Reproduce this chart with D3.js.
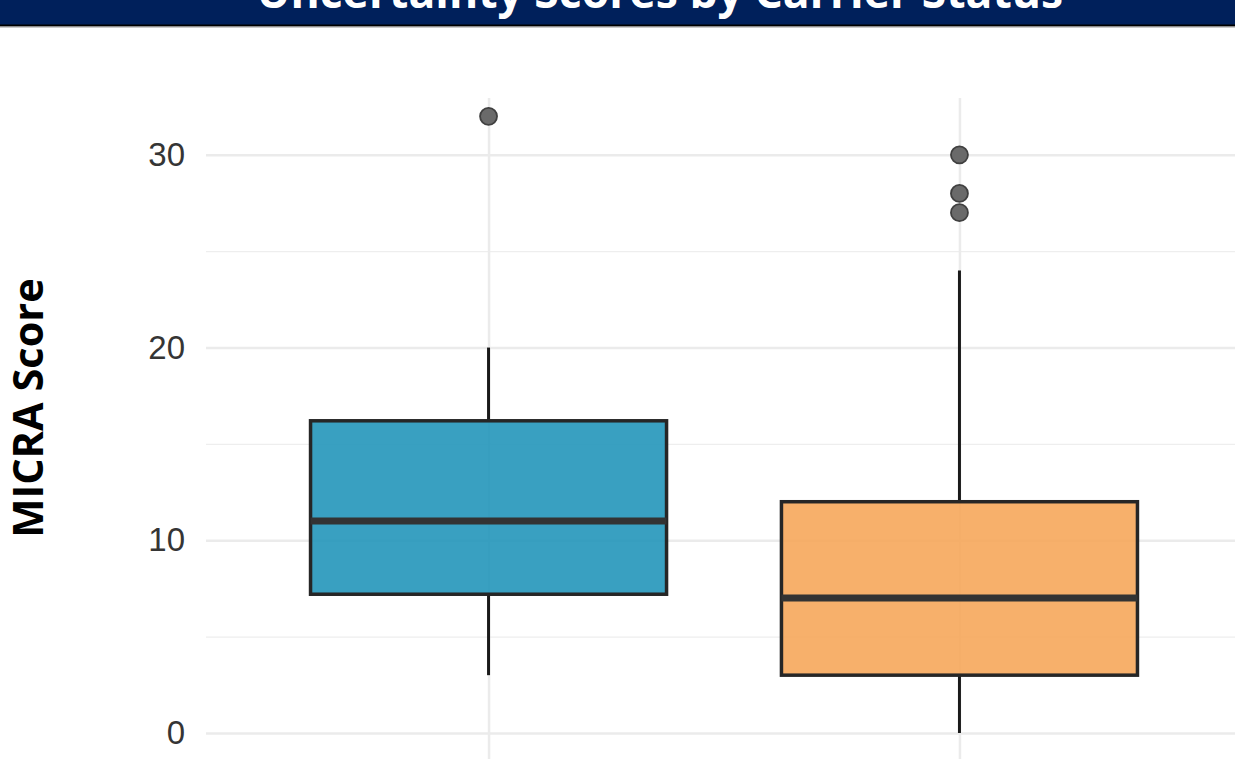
<!DOCTYPE html>
<html>
<head>
<meta charset="utf-8">
<script src="https://cdn.jsdelivr.net/npm/d3@7"></script>
<style>
  body { margin: 0; background: #ffffff; }
  svg { display: block; }
</style>
</head>
<body>
<svg id="chart"></svg>
<script>
// chart values
const categories = ["Non-carrier", "Carrier"];
const whiskerLow = [3, 0];
const q1 = [7.2, 3];
const medians = [11, 7];
const q3 = [16.2, 12];
const whiskerHigh = [20, 24];
const outliers = [[32], [30, 28, 27]];
const majorTicks = [0, 10, 20, 30];
const minorTicks = [5, 15, 25];
const titleText = "Uncertainty Scores by Carrier Status";
const yLabel = "MICRA Score";

const width = 1235;
const height = 759;

// panel runs past the right and bottom edges (picture is cropped)
const margin = { top: 98, right: -7, bottom: 0, left: 206 };

const svg = d3.select("#chart")
  .attr("width", width)
  .attr("height", height);

const xScale = d3.scalePoint()
  .domain(categories)
  .range([margin.left, width - margin.right])
  .padding(0.6);

const yScale = d3.scaleLinear()
  .domain([-1.35, 32.95])
  .range([height - margin.bottom, margin.top]);

const colour = d3.scaleOrdinal()
  .domain(categories)
  .range(["#2496ba", "#f6a75b"]);

const boxWidth = xScale.step() * 0.756;

// minor grid
svg.append("g")
  .attr("class", "grid-minor")
  .attr("transform", `translate(${margin.left},0)`)
  .call(d3.axisLeft(yScale).tickValues(minorTicks).tickSize(-(width - margin.right - margin.left)).tickFormat(""))
  .call(g => g.select(".domain").remove())
  .call(g => g.selectAll("line").attr("stroke", "#eeeeee").attr("stroke-width", 1.3));

// major grid
svg.append("g")
  .attr("class", "grid-major")
  .attr("transform", `translate(${margin.left},0)`)
  .call(d3.axisLeft(yScale).tickValues(majorTicks).tickSize(-(width - margin.right - margin.left)).tickFormat(""))
  .call(g => g.select(".domain").remove())
  .call(g => g.selectAll("line").attr("stroke", "#ebebeb").attr("stroke-width", 2.5));

// vertical grid at each category
svg.append("g")
  .attr("class", "grid-x")
  .attr("transform", `translate(0,${margin.top})`)
  .call(d3.axisBottom(xScale).tickSize(height - margin.top).tickFormat(""))
  .call(g => g.select(".domain").remove())
  .call(g => g.selectAll("line").attr("stroke", "#ebebeb").attr("stroke-width", 2.5));

// y tick labels
svg.append("g")
  .attr("class", "axis-y")
  .attr("transform", `translate(${margin.left},0)`)
  .call(d3.axisLeft(yScale).tickValues(majorTicks).tickSize(0).tickPadding(21))
  .call(g => g.select(".domain").remove())
  .call(g => g.selectAll("text")
    .attr("fill", "#353535")
    .style("font-family", "'Liberation Sans', Arial, sans-serif")
    .style("font-size", "33px"));

const boxes = svg.append("g").attr("class", "boxes")
  .selectAll("g")
  .data(categories)
  .join("g");

// whiskers
boxes.append("line")
  .attr("x1", d => xScale(d))
  .attr("x2", d => xScale(d))
  .attr("y1", (d, i) => yScale(q3[i]))
  .attr("y2", (d, i) => yScale(whiskerHigh[i]))
  .attr("stroke", "#1a1a1a")
  .attr("stroke-width", 3);

boxes.append("line")
  .attr("x1", d => xScale(d))
  .attr("x2", d => xScale(d))
  .attr("y1", (d, i) => yScale(q1[i]))
  .attr("y2", (d, i) => yScale(whiskerLow[i]))
  .attr("stroke", "#1a1a1a")
  .attr("stroke-width", 3);

// boxes
boxes.append("rect")
  .attr("x", d => xScale(d) - boxWidth / 2)
  .attr("width", boxWidth)
  .attr("y", (d, i) => yScale(q3[i]))
  .attr("height", (d, i) => yScale(q1[i]) - yScale(q3[i]))
  .attr("fill", d => colour(d))
  .attr("fill-opacity", 0.9)
  .attr("stroke", "#262626")
  .attr("stroke-width", 3.5);

// medians
boxes.append("line")
  .attr("x1", d => xScale(d) - boxWidth / 2)
  .attr("x2", d => xScale(d) + boxWidth / 2)
  .attr("y1", (d, i) => yScale(medians[i]))
  .attr("y2", (d, i) => yScale(medians[i]))
  .attr("stroke", "#333333")
  .attr("stroke-width", 7);

// outliers
boxes.selectAll("circle")
  .data((d, i) => outliers[i].map(v => ({ cat: d, v: v })))
  .join("circle")
  .attr("cx", d => xScale(d.cat))
  .attr("cy", d => yScale(d.v))
  .attr("r", 8.5)
  .attr("fill", "#6a6a6a")
  .attr("stroke", "#404040")
  .attr("stroke-width", 1.8);

// y axis title
svg.append("text")
  .attr("transform", `translate(43, ${408}) rotate(-90)`)
  .attr("text-anchor", "middle")
  .attr("fill", "#000000")
  .style("font-family", "'Open Sans', sans-serif")
  .style("font-weight", "bold")
  .style("font-size", "41.5px")
  .text(yLabel);

// title bar, cut off at the top of the picture
svg.append("rect")
  .attr("x", 0).attr("y", 0)
  .attr("width", width).attr("height", 25)
  .attr("fill", "#00205b");

svg.append("line")
  .attr("x1", 0).attr("x2", width)
  .attr("y1", 25.5).attr("y2", 25.5)
  .attr("stroke", "#000000")
  .attr("stroke-width", 2);

svg.append("line")
  .attr("x1", 0).attr("x2", width)
  .attr("y1", 27).attr("y2", 27)
  .attr("stroke", "#9a9a9a")
  .attr("stroke-width", 1);

svg.append("text")
  .attr("x", 660)
  .attr("y", 8)
  .attr("text-anchor", "middle")
  .attr("fill", "#ffffff")
  .style("font-family", "'Open Sans', sans-serif")
  .style("font-weight", "bold")
  .style("font-size", "44.5px")
  .text(titleText);
</script>
</body>
</html>
